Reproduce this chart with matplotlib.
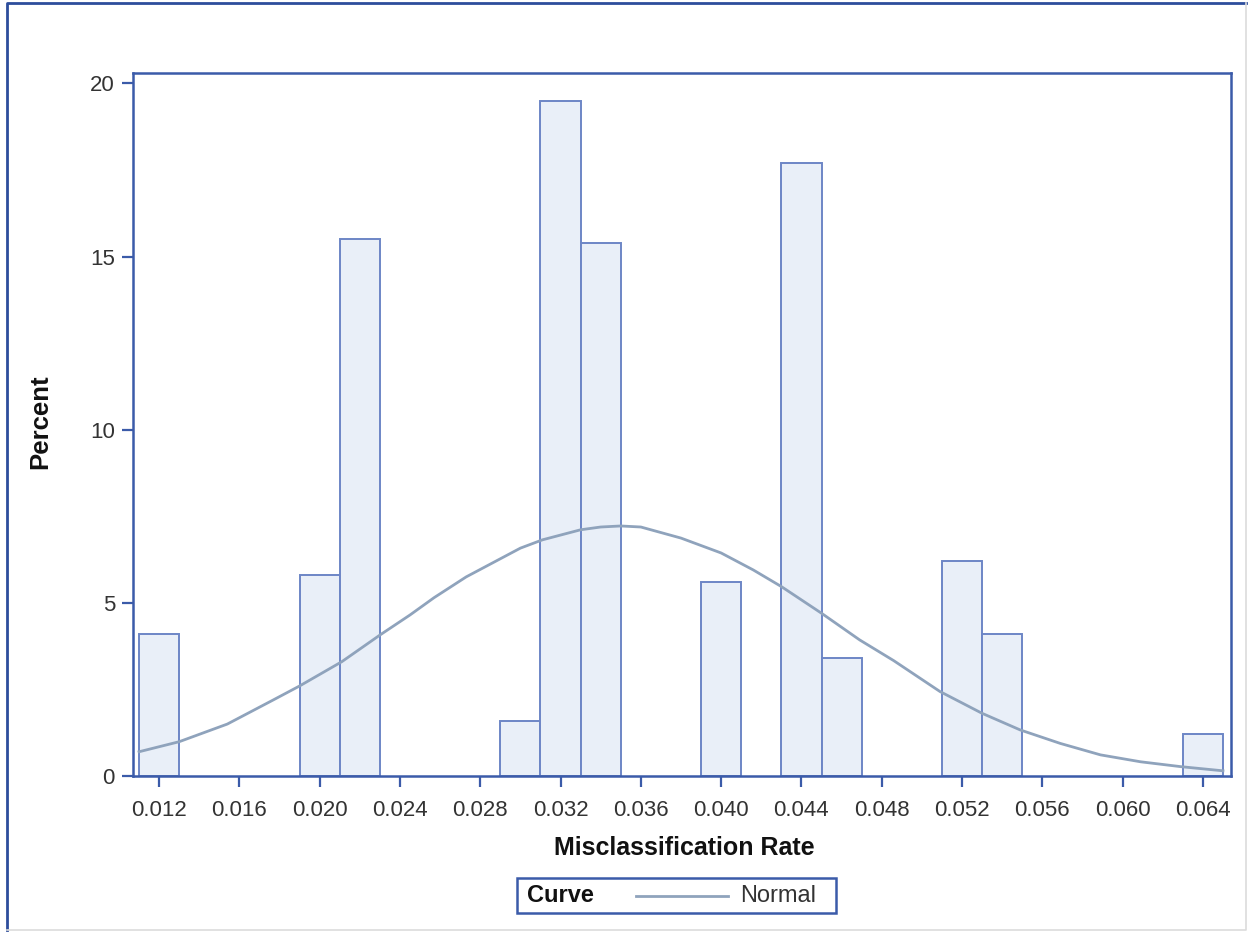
import numpy as np
import matplotlib
matplotlib.use("Agg")
from matplotlib import pyplot as plt
from matplotlib.patches import Rectangle
from matplotlib.lines import Line2D

plt.rcParams['font.family'] = ['Liberation Sans', 'DejaVu Sans']

# histogram bins (midpoints) and percent of runs
bin_mid = [0.012, 0.020, 0.022, 0.030, 0.032, 0.034, 0.040, 0.044, 0.046, 0.052, 0.054, 0.064]
pct = [4.1, 5.8, 15.5, 1.6, 19.5, 15.4, 5.6, 17.7, 3.4, 6.2, 4.1, 1.2]
bin_width = 0.002

# fitted normal curve
curve_x = [0.0110, 0.0130, 0.0154, 0.0177, 0.0190, 0.0211, 0.0230, 0.0245, 0.0257, 0.0273,
           0.0300, 0.0311, 0.0330, 0.0340, 0.0350, 0.0360, 0.0380, 0.0400, 0.0416,
           0.0430, 0.0450, 0.0469, 0.0486, 0.0509, 0.0530, 0.0549, 0.0569, 0.0589,
           0.0609, 0.0629, 0.0650]
curve_y = [0.70, 0.99, 1.50, 2.20, 2.60, 3.30, 4.07, 4.65, 5.15, 5.75,
           6.58, 6.82, 7.11, 7.19, 7.22, 7.19, 6.87, 6.44, 5.95,
           5.47, 4.70, 3.93, 3.33, 2.44, 1.81, 1.33, 0.94, 0.61,
           0.41, 0.27, 0.15]

xticks = [0.012, 0.016, 0.020, 0.024, 0.028, 0.032, 0.036, 0.040, 0.044,
          0.048, 0.052, 0.056, 0.060, 0.064]
yticks = [0, 5, 10, 15, 20]

spine_col = '#3b5ba9'
bar_edge = '#6d86c6'
bar_fill = '#e9eff8'
curve_col = '#8fa3bc'
txt_col = '#333333'

W, H = 1249, 934
fig = plt.figure(figsize=(W/100, H/100), dpi=100)
ax = fig.add_axes([133/W, 1-776/H, (1231-133)/W, (776-73)/H])

ax.bar(bin_mid, pct, width=bin_width, color=bar_fill, edgecolor=bar_edge, linewidth=1.4, zorder=2)
ax.plot(curve_x, curve_y, color=curve_col, linewidth=2, zorder=3)

ax.set_xlim(0.0107, 0.0654)
ax.set_ylim(0, 20.3)
ax.set_xticks(xticks)
ax.set_xticklabels(['%.3f' % t for t in xticks])
ax.set_yticks(yticks)

for s in ax.spines.values():
    s.set_color(spine_col)
    s.set_linewidth(1.8)
ax.tick_params(axis='both', colors=spine_col, length=8, width=1.6, labelsize=16,
               labelcolor=txt_col)
ax.tick_params(axis='x', pad=9)
ax.tick_params(axis='y', pad=5)

# axis labels
fig.text(684/W, 1-848/H, 'Misclassification Rate', fontsize=18, fontweight='bold',
         color='#111111', ha='center', va='center')
fig.text(40/W, 1-422/H, 'Percent', fontsize=18.5, fontweight='bold', color='#111111',
         ha='center', va='center', rotation=90)

# legend box below the axes
fig.patches.append(Rectangle((517/W, 1-913/H), (836-517)/W, 35/H,
                             transform=fig.transFigure, fill=False,
                             edgecolor=spine_col, linewidth=1.8))
fig.text(527/W, 1-896/H, 'Curve', fontsize=17, fontweight='bold',
         color='#111111', va='center', ha='left')
fig.lines.append(Line2D([636/W, 728/W], [1-896/H, 1-896/H],
                        transform=fig.transFigure, color=curve_col, linewidth=2))
fig.text(740/W, 1-896/H, 'Normal', fontsize=17, color=txt_col, va='center', ha='left')

# outer frame of the graph
fig.lines.append(Line2D([7/W, 7/W, 1246/W], [1-930/H, 1-3/H, 1-3/H],
                        transform=fig.transFigure, color='#2d4d9c', linewidth=2))
fig.lines.append(Line2D([1246/W, 1246/W, 7/W], [1-3/H, 1-930/H, 1-930/H],
                        transform=fig.transFigure, color='#dcdcdc', linewidth=1.2))

fig.savefig('out.png', dpi=100)
